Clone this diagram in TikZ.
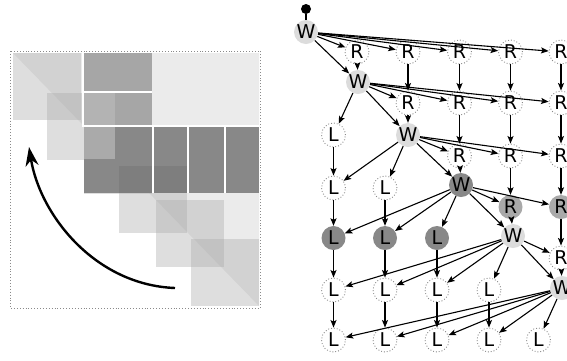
\documentclass[tikz,border=0pt]{standalone}
\usepackage{fontspec}
\newfontfamily\nodefont{DejaVu Sans}
\usetikzlibrary{arrows.meta}
\definecolor{bgtri}{HTML}{EBEBEB}
\definecolor{sqfill}{RGB}{171,171,171}
\definecolor{midblk}{HTML}{A6A6A6}
\definecolor{midlite}{HTML}{B3B3B3}
\definecolor{darkblk}{HTML}{888888}
\definecolor{darklite}{HTML}{AAAAAA}
\definecolor{darkdeep}{HTML}{7E7E7E}
\definecolor{wlight}{HTML}{DCDCDC}
\definecolor{rgray}{HTML}{A9A9A9}
\definecolor{dotc}{HTML}{8A8A8A}

\tikzset{
  vert/.style={circle, minimum size=24pt, inner sep=0pt,
    font=\nodefont\fontsize{19}{19}\selectfont},
  wnode/.style={vert, fill=wlight},
  wdark/.style={vert, fill=darkblk},
  opennode/.style={vert, draw=dotc, dotted, line width=0.9pt, fill=white},
  rfill/.style={vert, fill=rgray},
  ldark/.style={vert, fill=darkblk},
  link/.style={-{Stealth[length=7.5pt,width=6pt,inset=1.5pt]}, line width=1.1pt},
  diagsq/.style={fill=sqfill, fill opacity=0.39},
  gap/.style={white, line width=2pt},
}

\begin{document}
\begin{tikzpicture}[x=1pt, y=-1pt]
\useasboundingbox (0,0) rectangle (567,360);

% ---------- matrix panel ----------
% upper triangle
\fill[bgtri] (13,53) -- (259,53) -- (259,306) -- cycle;
% blocks along the diagonal
\foreach \x/\y in {13/53, 47/93, 84/127, 119/166, 156/200, 191/239}
  \fill[diagsq] (\x,\y) rectangle ++(68,67);
% off-diagonal blocks
\fill[midblk] (84,53) rectangle (152,91);
\fill[midblk] (84,93) rectangle (152,125);
\fill[midlite] (84,93) rectangle (115,125);
\fill[darkblk] (84,127) rectangle (259,193);
\fill[darklite] (84,127) rectangle (115,159);
\fill[darkdeep] (119,166) rectangle (187,193);
% separating lines
\draw[gap] (82.5,53) -- (82.5,126);
\draw[gap] (84,92) -- (152,92);
\draw[gap] (82,126) -- (259,126);
\foreach \x in {153, 187.5, 224.5}
  \draw[gap] (\x,126) -- (\x,193);
% frame
\draw[dotc, dotted, line width=0.9pt] (10,51) rectangle (260,308);
% sweep arrow
\draw[line width=2.4pt, -{Stealth[length=19pt,width=13pt,inset=6pt]}]
  (175,288) .. controls (95,285) and (40,215) .. (29,147);

% ---------- task graph ----------
\node[circle, fill=black, minimum size=10pt, inner sep=0pt] (src) at (306,9) {};

\node[wnode] (W1) at (306,32) {W};
\node[wnode] (W2) at (358,82) {W};
\node[wnode] (W3) at (408,135) {W};
\node[wdark] (W4) at (461,185) {W};
\node[wnode] (W5) at (513,236) {W};
\node[wnode] (W6) at (562,288) {W};

% R nodes
\node[opennode] (R11) at (357,52) {R};
\node[opennode] (R12) at (408,52) {R};
\node[opennode] (R13) at (459.5,52) {R};
\node[opennode] (R14) at (510.5,52) {R};
\node[opennode] (R15) at (561,52) {R};
\node[opennode] (R22) at (408,103) {R};
\node[opennode] (R23) at (459.5,103) {R};
\node[opennode] (R24) at (510.5,103) {R};
\node[opennode] (R25) at (561,103) {R};
\node[opennode] (R33) at (459.5,156) {R};
\node[opennode] (R34) at (510.5,156) {R};
\node[opennode] (R35) at (561,156) {R};
\node[rfill] (R44) at (510.5,207) {R};
\node[rfill] (R45) at (561,207) {R};
\node[opennode] (R55) at (561,258) {R};

% L nodes
\node[opennode] (L11) at (333.5,135) {L};
\node[opennode] (L21) at (333.5,188) {L};
\node[opennode] (L22) at (385,188) {L};
\node[ldark] (L31) at (333.5,238) {L};
\node[ldark] (L32) at (385,238) {L};
\node[ldark] (L33) at (437,238) {L};
\node[opennode] (L41) at (333.5,290) {L};
\node[opennode] (L42) at (385,290) {L};
\node[opennode] (L43) at (437,290) {L};
\node[opennode] (L44) at (489,290) {L};
\node[opennode] (L51) at (333.5,340) {L};
\node[opennode] (L52) at (385,340) {L};
\node[opennode] (L53) at (437,340) {L};
\node[opennode] (L54) at (489,340) {L};
\node[opennode] (L55) at (538.5,340) {L};

\draw[line width=1.1pt] (src) -- (W1);

\foreach \a/\b in {
  W1/R11, W1/R12, W1/R13, W1/R14, W1/R15, W1/W2,
  R11/W2, R12/R22, R13/R23, R14/R24, R15/R25,
  W2/R22, W2/R23, W2/R24, W2/R25, W2/W3, W2/L11,
  R22/W3, R23/R33, R24/R34, R25/R35,
  W3/R33, W3/R34, W3/R35, W3/W4, W3/L21, W3/L22,
  L11/L21,
  R33/W4, R34/R44, R35/R45,
  W4/R44, W4/R45, W4/W5, W4/L31, W4/L32, W4/L33,
  L21/L31, L22/L32,
  R44/W5, R45/R55,
  W5/R55, W5/W6, W5/L41, W5/L42, W5/L43, W5/L44,
  L31/L41, L32/L42, L33/L43,
  R55/W6,
  W6/L51, W6/L52, W6/L53, W6/L54, W6/L55,
  L41/L51, L42/L52, L43/L53, L44/L54}
  \draw[link] (\a) -- (\b);
\end{tikzpicture}
\end{document}
